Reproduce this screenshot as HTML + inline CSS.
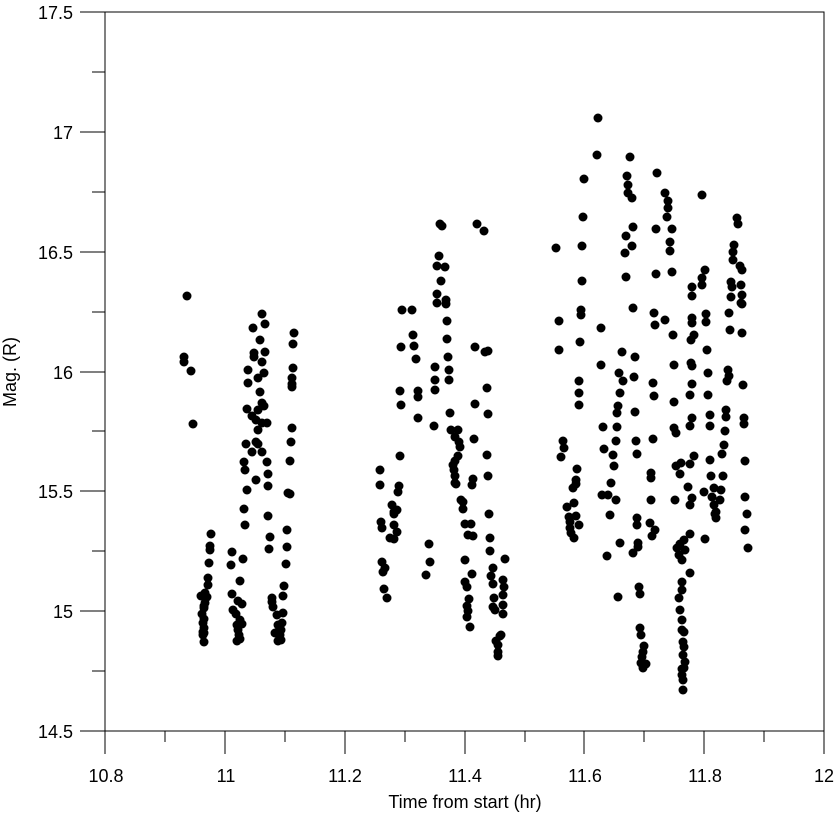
<!DOCTYPE html>
<html><head><style>
html,body{margin:0;padding:0;background:#fff;}
svg{display:block;}
text{font-family:"Liberation Sans",Arial,sans-serif;font-size:18px;fill:#000;}
</style></head><body>
<svg width="836" height="813" viewBox="0 0 836 813" xmlns="http://www.w3.org/2000/svg">
<rect x="105" y="12" width="719" height="719" fill="none" stroke="#000" stroke-width="1"/>
<g stroke="#000" stroke-width="1">
<line x1="105" y1="731" x2="105" y2="754"/><line x1="165" y1="731" x2="165" y2="742"/>
<line x1="225" y1="731" x2="225" y2="754"/><line x1="285" y1="731" x2="285" y2="742"/>
<line x1="345" y1="731" x2="345" y2="754"/><line x1="405" y1="731" x2="405" y2="742"/>
<line x1="465" y1="731" x2="465" y2="754"/><line x1="525" y1="731" x2="525" y2="742"/>
<line x1="584" y1="731" x2="584" y2="754"/><line x1="644" y1="731" x2="644" y2="742"/>
<line x1="704" y1="731" x2="704" y2="754"/><line x1="764" y1="731" x2="764" y2="742"/>
<line x1="824" y1="731" x2="824" y2="754"/>
<line x1="80" y1="731" x2="105" y2="731"/><line x1="92" y1="671" x2="105" y2="671"/>
<line x1="80" y1="611" x2="105" y2="611"/><line x1="92" y1="551" x2="105" y2="551"/>
<line x1="80" y1="491" x2="105" y2="491"/><line x1="92" y1="431" x2="105" y2="431"/>
<line x1="80" y1="372" x2="105" y2="372"/><line x1="92" y1="312" x2="105" y2="312"/>
<line x1="80" y1="252" x2="105" y2="252"/><line x1="92" y1="192" x2="105" y2="192"/>
<line x1="80" y1="132" x2="105" y2="132"/><line x1="92" y1="72" x2="105" y2="72"/>
<line x1="80" y1="12" x2="105" y2="12"/>
</g>
<g text-anchor="middle">
<text x="106" y="782">10.8</text><text x="226" y="782">11</text><text x="345" y="782">11.2</text>
<text x="465" y="782">11.4</text><text x="585" y="782">11.6</text><text x="705" y="782">11.8</text>
<text x="824" y="782">12</text>
<text x="465" y="808">Time from start (hr)</text>
</g>
<g text-anchor="end">
<text x="73" y="738">14.5</text><text x="73" y="618">15</text><text x="73" y="498">15.5</text>
<text x="73" y="379">16</text><text x="73" y="259">16.5</text><text x="73" y="139">17</text>
<text x="73" y="19">17.5</text>
</g>
<text x="0" y="0" text-anchor="middle" transform="translate(16,372) rotate(-90)">Mag. (R)</text>
<g id="pts" fill="#000"></g>
</svg>
<script>
var P=[
[187,296],[184,357],[184,362],[191,371],[193,424],
[211,534],[210,546],[210,550],[209,563],[208,578],[208,585],[207,597],[205,603],[204,608],[202,614],[204,619],[203,623],[204,628],[203,632],[203,635],[204,606],[201,596],[205,593],[204,642],[204,633],
[232,552],[231,565],[243,559],[240,581],[232,594],[238,601],[242,604],[233,610],[236,614],[240,620],[237,625],[238,630],[239,635],[237,641],[240,639],[242,624],
[262,314],[265,324],[253,328],[260,340],[265,352],[254,353],[254,357],[262,362],[248,370],[264,373],[258,378],[248,383],[260,392],[262,403],[247,409],[258,410],[264,406],[252,416],[256,420],[262,423],[258,430],[267,423],[256,442],[258,444],[262,452],[246,444],[252,452],[244,462],[245,470],[256,480],[247,490],[244,509],[245,525],[267,462],[268,474],[268,486],[268,516],[270,537],[269,549],
[294,333],[293,344],[293,368],[292,378],[292,384],[292,387],[292,428],[291,442],[290,461],[288,493],[290,494],[287,530],[287,547],[286,564],[284,586],[283,596],[283,613],[282,623],[281,630],[280,635],[281,640],[278,641],[272,598],[272,602],[273,607],[277,615],[275,633],[278,625],
[440,224],[442,226],[477,224],[484,231],[439,256],[437,266],[445,267],[441,281],[437,294],[437,303],[446,300],[446,304],[447,321],[447,339],[448,357],[449,370],[449,380],[435,367],[435,380],[435,390],[402,310],[412,310],[413,335],[401,347],[414,346],[416,359],[400,391],[418,391],[418,397],[401,405],[418,418],[434,426],[450,413],[451,430],[458,430],[455,437],[459,442],[460,447],[458,456],[455,461],[453,465],[454,470],[455,476],[455,483],[456,484],[461,500],[463,502],[463,509],[472,485],[474,439],[473,479],[475,347],[485,352],[475,404],[488,351],[487,388],[488,414],[487,455],[488,476],[489,514],[400,456],[399,486],[380,470],[380,485],[398,492],[392,505],[397,510],[394,514],[394,525],[394,539],[397,532],[394,512],[381,522],[382,528],[390,538],[382,562],[383,572],[385,568],[384,589],[387,598],[429,544],[430,562],[426,575],[465,524],[471,524],[468,535],[473,536],[465,560],[472,574],[465,582],[467,587],[469,599],[467,606],[468,611],[467,617],[470,627],[490,538],[490,551],[505,559],[493,568],[491,576],[493,584],[503,580],[504,587],[503,595],[494,598],[493,607],[495,610],[503,605],[503,614],[501,635],[496,641],[498,645],[498,652],[498,656],[500,636],
[598,118],[597,155],[630,157],[657,173],[584,179],[627,176],[628,185],[628,193],[632,198],[665,193],[668,201],[668,208],[667,217],[583,217],[633,227],[656,229],[672,229],[626,236],[670,242],[632,246],[625,253],[670,251],[556,248],[582,246],[582,281],[656,274],[672,272],[626,277],[633,308],[654,313],[665,320],[559,321],[581,310],[581,315],[601,328],[655,325],[673,335],[580,342],[559,350],[622,352],[635,357],[601,365],[674,365],[619,373],[623,381],[634,377],[653,383],[579,381],[620,393],[579,393],[579,405],[654,396],[674,402],[618,406],[617,413],[635,412],[617,427],[603,427],[674,428],[676,433],[563,441],[564,448],[561,457],[616,441],[604,449],[636,441],[653,439],[637,454],[613,455],[614,466],[676,466],[577,469],[576,480],[573,488],[576,484],[608,495],[602,495],[616,500],[611,483],[651,473],[651,478],[651,500],[675,500],[574,503],[567,507],[569,517],[610,515],[637,518],[637,525],[650,523],[576,516],[570,522],[570,528],[571,533],[574,538],[579,525],[620,543],[638,543],[652,536],[655,530],[684,540],[690,573],[607,556],[633,553],[638,547],[677,548],[679,555],[682,560],[682,590],[618,597],[639,587],[640,594],[679,598],[680,610],[640,628],[641,635],[644,646],[643,652],[642,657],[641,663],[643,668],[646,664],[682,582],[682,620],[682,630],[684,632],[683,642],[684,647],[683,655],[685,662],[682,669],[682,675],[683,680],[683,690],[684,668],
[692,296],[691,340],[691,363],[690,395],[690,426],[692,287],[692,318],[692,323],[694,335],[692,366],[692,384],[692,418],[681,463],[694,456],[690,464],[680,474],[688,487],[692,498],[690,505],[690,534],[680,544],[685,550],
[702,195],[737,218],[738,224],[734,245],[733,252],[733,260],[740,266],[742,270],[705,270],[702,278],[702,285],[731,282],[732,287],[741,285],[742,295],[741,303],[731,297],[742,304],[729,313],[730,330],[742,333],[706,314],[706,322],[707,350],[708,373],[728,370],[729,376],[727,381],[743,385],[708,395],[710,415],[726,410],[726,417],[744,418],[744,424],[710,426],[725,431],[724,445],[722,454],[710,460],[745,461],[711,476],[723,476],[704,492],[714,488],[721,490],[720,500],[712,497],[714,505],[716,512],[716,518],[715,514],[745,497],[747,514],[745,530],[748,548],[705,539]
];
var g=document.getElementById('pts'),s='';
for(var i=0;i<P.length;i++){s+='<circle cx="'+P[i][0]+'" cy="'+P[i][1]+'" r="4.5"/>';}
g.innerHTML=s;
</script>
</body></html>
